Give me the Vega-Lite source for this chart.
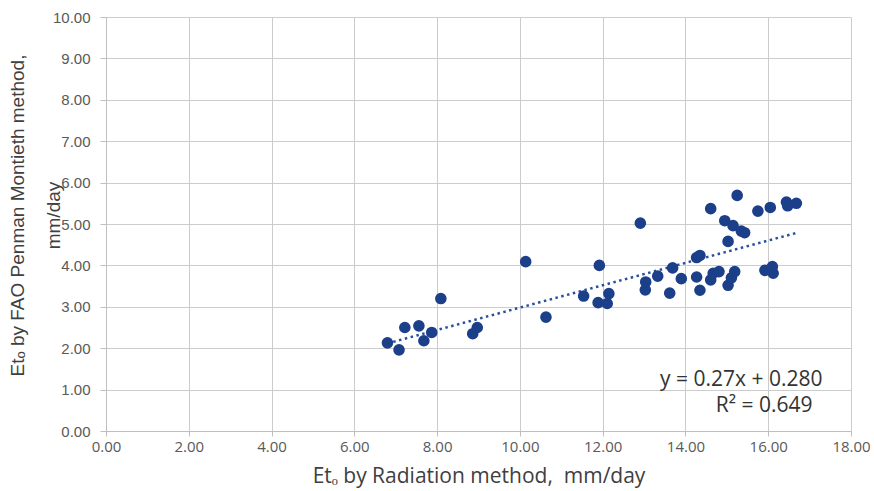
{
  "$schema": "https://vega.github.io/schema/vega-lite/v6.json",
  "width": 745,
  "height": 414,
  "autosize": {"type": "none"},
  "padding": {"left": 106, "top": 17, "right": 23, "bottom": 60},
  "background": "white",
  "config": {"view": {"stroke": null}},
  "datasets": {
    "points": [
      {"radiation": 6.80, "penman": 2.13},
      {"radiation": 7.08, "penman": 1.96},
      {"radiation": 7.22, "penman": 2.50},
      {"radiation": 7.56, "penman": 2.54},
      {"radiation": 7.68, "penman": 2.18},
      {"radiation": 7.87, "penman": 2.38},
      {"radiation": 8.09, "penman": 3.20},
      {"radiation": 8.86, "penman": 2.35},
      {"radiation": 8.97, "penman": 2.50},
      {"radiation": 10.14, "penman": 4.09},
      {"radiation": 10.63, "penman": 2.75},
      {"radiation": 11.54, "penman": 3.26},
      {"radiation": 11.92, "penman": 4.00},
      {"radiation": 12.15, "penman": 3.32},
      {"radiation": 11.89, "penman": 3.10},
      {"radiation": 12.11, "penman": 3.08},
      {"radiation": 12.91, "penman": 5.02},
      {"radiation": 13.03, "penman": 3.41},
      {"radiation": 13.04, "penman": 3.60},
      {"radiation": 13.33, "penman": 3.74},
      {"radiation": 13.62, "penman": 3.33},
      {"radiation": 13.69, "penman": 3.94},
      {"radiation": 13.90, "penman": 3.68},
      {"radiation": 14.27, "penman": 4.19},
      {"radiation": 14.35, "penman": 4.24},
      {"radiation": 14.27, "penman": 3.72},
      {"radiation": 14.35, "penman": 3.40},
      {"radiation": 14.61, "penman": 3.65},
      {"radiation": 14.67, "penman": 3.81},
      {"radiation": 14.81, "penman": 3.85},
      {"radiation": 14.61, "penman": 5.37},
      {"radiation": 14.95, "penman": 5.08},
      {"radiation": 15.03, "penman": 4.58},
      {"radiation": 15.03, "penman": 3.52},
      {"radiation": 15.11, "penman": 3.70},
      {"radiation": 15.15, "penman": 4.96},
      {"radiation": 15.19, "penman": 3.85},
      {"radiation": 15.25, "penman": 5.69},
      {"radiation": 15.35, "penman": 4.83},
      {"radiation": 15.43, "penman": 4.79},
      {"radiation": 15.75, "penman": 5.31},
      {"radiation": 15.92, "penman": 3.88},
      {"radiation": 16.04, "penman": 3.90},
      {"radiation": 16.10, "penman": 3.97},
      {"radiation": 16.12, "penman": 3.81},
      {"radiation": 16.05, "penman": 5.40},
      {"radiation": 16.44, "penman": 5.53},
      {"radiation": 16.47, "penman": 5.44},
      {"radiation": 16.68, "penman": 5.50}
    ],
    "trend": [
      {"radiation": 6.80, "penman": 2.116},
      {"radiation": 16.68, "penman": 4.784}
    ]
  },
  "layer": [
    {
      "data": {"name": "trend"},
      "mark": {"type": "line", "color": "#2a4f9e", "strokeDash": [2.5, 3.5], "strokeWidth": 2.5},
      "encoding": {
        "x": {"field": "radiation", "type": "quantitative", "scale": {"domain": [0, 18], "nice": false, "zero": true},
          "axis": {
            "values": [0, 2, 4, 6, 8, 10, 12, 14, 16, 18],
            "format": ".2f",
            "labelFlush": false,
            "labelFont": "Open Sans",
            "labelFontSize": 15,
            "labelColor": "#595959",
            "labelBaseline": "alphabetic",
            "labelPadding": 15,
            "tickSize": 5,
            "tickColor": "#bfbfbf",
            "domainColor": "#bfbfbf",
            "gridColor": "#cccccc",
            "title": "Etₒ by Radiation method,\u00a0 mm/day",
            "titleFont": "Open Sans",
            "titleFontSize": 21,
            "titleFontWeight": "normal",
            "titleColor": "#404040",
            "titleBaseline": "alphabetic",
            "titleY": 51
          }
        },
        "y": {"field": "penman", "type": "quantitative", "scale": {"domain": [0, 10], "nice": false},
          "axis": {
            "values": [0, 1, 2, 3, 4, 5, 6, 7, 8, 9, 10],
            "format": ".2f",
            "labelFlush": false,
            "labelFont": "Liberation Sans",
            "labelFontSize": 15,
            "labelColor": "#595959",
            "labelPadding": 10,
            "tickSize": 6,
            "tickColor": "#bfbfbf",
            "domainColor": "#bfbfbf",
            "gridColor": "#cccccc",
            "title": ["Etₒ by FAO Penman Montieth method,", "mm/day"],
            "titleFont": "Liberation Sans",
            "titleFontSize": 19,
            "titleFontWeight": "normal",
            "titleColor": "#404040",
            "titleAngle": -90,
            "titleAlign": "center",
            "titleBaseline": "alphabetic",
            "titleLineHeight": 36,
            "titleX": -83,
            "titleY": 198
          }
        }
      }
    },
    {
      "data": {"name": "points"},
      "mark": {"type": "circle", "size": 135, "color": "#1c3f8a", "opacity": 1},
      "encoding": {
        "x": {"field": "radiation", "type": "quantitative"},
        "y": {"field": "penman", "type": "quantitative"}
      }
    },
    {
      "data": {"values": [{}]},
      "mark": {"type": "text", "text": "y = 0.27x + 0.280", "font": "Open Sans", "fontSize": 21, "color": "#333333", "align": "center", "baseline": "alphabetic"},
      "encoding": {
        "x": {"datum": 15.35, "type": "quantitative"},
        "y": {"datum": 1.08, "type": "quantitative"}
      }
    },
    {
      "data": {"values": [{}]},
      "mark": {"type": "text", "text": "R² = 0.649", "font": "Open Sans", "fontSize": 21, "color": "#333333", "align": "center", "baseline": "alphabetic"},
      "encoding": {
        "x": {"datum": 15.9, "type": "quantitative"},
        "y": {"datum": 0.46, "type": "quantitative"}
      }
    }
  ]
}
